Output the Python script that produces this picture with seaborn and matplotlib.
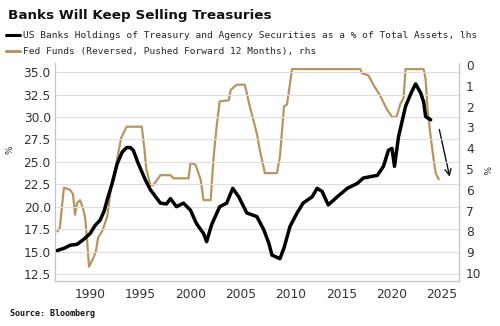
import matplotlib
matplotlib.use("Agg")
import matplotlib.pyplot as plt
import seaborn as sns
import pandas as pd
from matplotlib.lines import Line2D

# ---- data ----
bank_years = [1986.7, 1987.5, 1988.0, 1988.7, 1989.3, 1990.0, 1990.5, 1991.0, 1991.4, 1991.7,
              1992.2, 1992.7, 1993.2, 1993.65, 1994.0, 1994.3, 1994.8, 1995.5, 1996.0, 1997.0,
              1997.6, 1998.0, 1998.6, 1999.3, 2000.0, 2000.6, 2001.3, 2001.6, 2002.1, 2002.9,
              2003.6, 2004.2, 2004.8, 2005.6, 2006.6, 2007.3, 2007.8, 2008.1, 2008.9, 2009.3,
              2009.9, 2010.6, 2011.2, 2012.1, 2012.6, 2013.1, 2013.7, 2014.6, 2015.6, 2016.6,
              2017.2, 2018.6, 2019.2, 2019.7, 2020.05, 2020.3, 2020.7, 2021.4, 2022.0, 2022.4,
              2022.9, 2023.2, 2023.4, 2023.9]
bank_share = [15.1, 15.4, 15.7, 15.8, 16.3, 17.0, 17.9, 18.5, 19.5, 20.75,
              22.6, 24.8, 26.1, 26.6, 26.6, 26.3, 24.8, 23.0, 21.9, 20.4,
              20.3, 20.9, 20.0, 20.4, 19.6, 18.1, 17.0, 16.1, 18.0, 20.0,
              20.4, 22.05, 21.1, 19.3, 18.9, 17.4, 15.9, 14.6, 14.2, 15.4,
              17.8, 19.3, 20.4, 21.1, 22.05, 21.7, 20.2, 21.1, 22.05, 22.6,
              23.2, 23.5, 24.5, 26.3, 26.5, 24.5, 27.8, 31.2, 32.8, 33.7,
              32.7, 31.7, 30.05, 29.7]

fed_years = [1986.75, 1987.0, 1987.2, 1987.4, 1988.0, 1988.3, 1988.5, 1988.7, 1989.0, 1989.3,
             1989.5, 1989.7, 1989.9, 1990.4, 1990.6, 1990.8, 1991.2, 1991.7, 1991.9, 1992.1,
             1992.3, 1992.5, 1992.7, 1992.9, 1993.1, 1993.65, 1995.15, 1995.4, 1995.6, 1996.0,
             1996.3, 1997.0, 1998.0, 1998.3, 1999.8, 2000.0, 2000.5, 2001.0, 2001.3, 2002.0,
             2002.3, 2002.6, 2002.9, 2003.8, 2004.0, 2004.6, 2005.4, 2005.9, 2006.6, 2006.9,
             2007.4, 2008.6, 2008.9, 2009.3, 2009.6, 2009.9, 2010.1, 2016.9, 2017.05, 2017.7,
             2018.2, 2018.9, 2019.5, 2020.05, 2020.5, 2020.9, 2021.2, 2021.4, 2023.2, 2023.4,
             2023.6, 2023.9, 2024.2, 2024.4, 2024.7]
fed_funds = [8.0, 7.8, 6.8, 5.9, 6.0, 6.2, 7.2, 6.65, 6.5, 6.9,
             7.3, 8.4, 9.7, 9.2, 8.9, 8.3, 8.0, 7.3, 6.6, 5.85,
             5.4, 5.05, 4.5, 4.0, 3.5, 2.97, 2.97, 4.0, 5.0, 5.77,
             5.77, 5.3, 5.3, 5.45, 5.45, 4.7, 4.8, 5.5, 6.5, 6.5,
             4.4, 2.95, 1.75, 1.7, 1.2, 0.95, 0.95, 2.0, 3.3, 4.1,
             5.2, 5.2, 4.4, 2.0, 1.9, 0.9, 0.2, 0.2, 0.4, 0.5,
             0.95, 1.5, 2.1, 2.5, 2.5, 1.85, 1.6, 0.2, 0.2, 0.7,
             2.2, 3.45, 4.55, 5.2, 5.5]

arrow_from = (2024.7, 2.97)
arrow_to = (2025.85, 5.5)

left_ticks = [12.5, 15.0, 17.5, 20.0, 22.5, 25.0, 27.5, 30.0, 32.5, 35.0]
right_ticks = list(range(0, 11))
x_ticks = [1990, 1995, 2000, 2005, 2010, 2015, 2020, 2025]

title = "Banks Will Keep Selling Treasuries"
label_bank = "US Banks Holdings of Treasury and Agency Securities as a % of Total Assets, lhs"
label_fed = "Fed Funds (Reversed, Pushed Forward 12 Months), rhs"
source = "Source: Bloomberg"

BLACK = "#000000"
TAN = "#b8955f"

sns.set_style("white")
plt.rcParams["font.family"] = ["DejaVu Sans"]

bank_df = pd.DataFrame({"year": bank_years, "share": bank_share})
fed_df = pd.DataFrame({"year": fed_years, "fed": fed_funds})

fig = plt.figure(figsize=(5, 3.26), dpi=100)
ax = fig.add_axes([0.11, 0.138, 0.808, 0.669])
ax2 = ax.twinx()

sns.lineplot(data=fed_df, x="year", y="fed", ax=ax2, color=TAN, lw=1.6, estimator=None, sort=False)
sns.lineplot(data=bank_df, x="year", y="share", ax=ax, color=BLACK, lw=2.5, estimator=None, sort=False)

ax.set_zorder(ax2.get_zorder() + 1)
ax.patch.set_visible(False)

ax.set_xlim(1986.51, 2026.72)
ax.set_ylim(11.71, 36.04)
ax2.set_ylim(10.385, -0.096)

ax.set_yticks(left_ticks)
ax.set_yticklabels([f"{t:.1f}" for t in left_ticks])
ax2.set_yticks(right_ticks)
ax.set_xticks(x_ticks)

ax.yaxis.grid(True, color="#dedede", lw=0.8)
ax.xaxis.grid(False)
ax2.grid(False)

for a in (ax, ax2):
    for s in a.spines.values():
        s.set_color("#c4c4c4")
        s.set_linewidth(0.8)
    a.spines["top"].set_visible(False)
    a.set_xlabel("")
    a.set_ylabel("")

ax.tick_params(axis="y", length=0, labelsize=8.8, labelcolor="#333333", pad=3)
ax2.tick_params(axis="y", length=0, labelsize=8.8, labelcolor="#333333", pad=5)
ax.tick_params(axis="x", length=3, direction="in", color="#c4c4c4", labelsize=8.8,
               labelcolor="#333333", pad=5)

ax2.annotate("", xy=arrow_to, xytext=arrow_from,
             arrowprops=dict(arrowstyle="->", color="#111111", lw=1.0, mutation_scale=11))

fig.text(0.016, 0.953, title, fontsize=9.7, fontweight="bold", ha="left", va="center", color="#111111")

handles = [Line2D([], [], color=BLACK, lw=2.2), Line2D([], [], color=TAN, lw=2.2)]
fig.legend(handles, [label_bank, label_fed], loc="upper left", bbox_to_anchor=(0.012, 0.905),
           frameon=False, prop={"family": "DejaVu Sans Mono", "size": 6.8},
           handlelength=1.5, handletextpad=0.25, labelspacing=0.75, borderpad=0, borderaxespad=0)

fig.text(0.02, 0.54, "%", fontsize=6.5, rotation=90, ha="center", va="center", color="#333333")
fig.text(0.97, 0.478, "%", fontsize=6.5, rotation=-90, ha="center", va="center", color="#333333")

fig.text(0.02, 0.037, source, fontsize=6, fontweight="bold", family="DejaVu Sans Mono",
         ha="left", va="center", color="#111111")

fig.savefig("out.png", dpi=100)
